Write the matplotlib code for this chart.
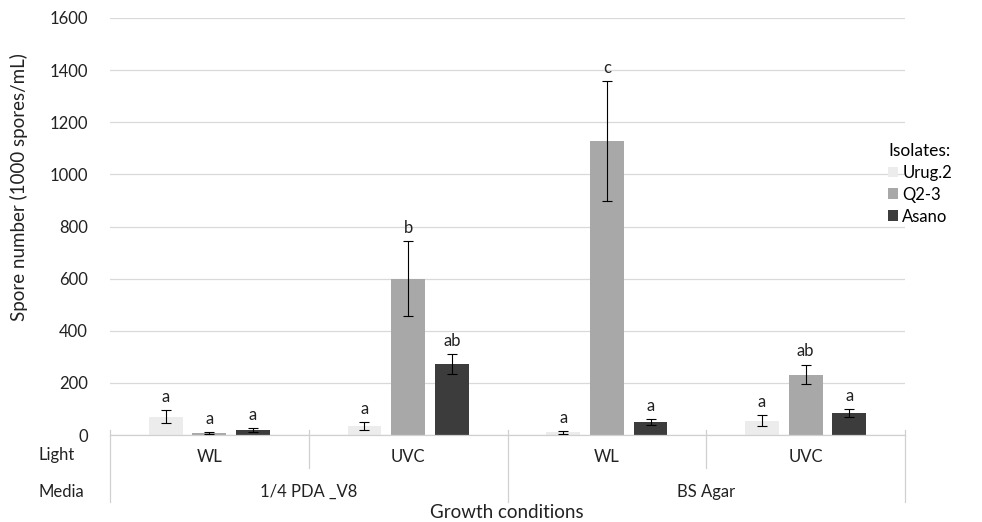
import matplotlib
matplotlib.use("Agg")
import matplotlib.pyplot as plt
import numpy as np
from matplotlib.transforms import blended_transform_factory

plt.rcParams['font.family'] = ['Lato', 'DejaVu Sans']

light = ["WL", "UVC", "WL", "UVC"]
media = ["1/4 PDA _V8", "BS Agar"]
isolates = ["Urug.2", "Q2-3", "Asano"]

urug = [70, 35, 10, 55]
q23 = [8, 600, 1128, 232]
asano = [18, 272, 50, 83]

urug_err = [25, 15, 5, 22]
q23_err = [4, 145, 230, 38]
asano_err = [7, 38, 12, 15]

urug_sig = ["a", "a", "a", "a"]
q23_sig = ["a", "b", "c", "ab"]
asano_sig = ["a", "ab", "a", "a"]

colors = ["#ececec", "#a8a8a8", "#3c3c3c"]
txt = '#222222'

fig = plt.figure(figsize=(9.82, 5.22), dpi=100)
ax = fig.add_axes([110/982, 1-435/522, 795/982, 417/522])

x = np.arange(len(light))
width = 0.17
offs = [-0.22, 0.0, 0.22]
series = [(urug, urug_err, urug_sig), (q23, q23_err, q23_sig), (asano, asano_err, asano_sig)]
for (vals, errs, sigs), off, col, name in zip(series, offs, colors, isolates):
    ax.bar(x + off, vals, width, color=col, label=name, zorder=2)
    ax.errorbar(x + off, vals, yerr=errs, fmt='none', ecolor='black',
                elinewidth=0.8, capsize=3.5, capthick=0.8, zorder=3)
    for xi, v, e, s in zip(x + off, vals, errs, sigs):
        ax.text(xi, v + e + 20, s, ha='center', va='bottom', fontsize=12, color=txt)

ax.set_xlim(-0.5, 3.5)
ax.set_ylim(0, 1600)
ax.set_yticks(np.arange(0, 1601, 200))
ax.tick_params(axis='y', length=0, labelsize=12, pad=16, colors=txt)
ax.set_xticks([])
ax.grid(axis='y', color='#d9d9d9', linewidth=0.9, zorder=0)
for sp in ['top', 'right', 'left']:
    ax.spines[sp].set_visible(False)
ax.spines['bottom'].set_color('#d0d0d0')
ax.spines['bottom'].set_linewidth(0.9)

ax.set_ylabel("Spore number (1000 spores/mL)", fontsize=13.5, color=txt)
ax.yaxis.set_label_coords((28 - 110) / 795, (435 - 187) / 417)

# Category table below the axis
tr = blended_transform_factory(ax.transData, fig.transFigure)
def fy(py):
    return 1 - py / 522

for b in [-0.5, 1.5, 3.5]:
    ax.plot([b, b], [fy(430), fy(502)], transform=tr, color='#d0d0d0', lw=0.9, clip_on=False)
for b in [0.5, 2.5]:
    ax.plot([b, b], [fy(430), fy(468)], transform=tr, color='#d0d0d0', lw=0.9, clip_on=False)

for xi, lab in zip(x, light):
    ax.text(xi, fy(457), lab, transform=tr, ha='center', va='center', fontsize=12, color=txt)
for i, lab in enumerate(media):
    ax.text(2 * i + 0.5, fy(492), lab, transform=tr, ha='center', va='center', fontsize=12, color=txt)

fig.text(38/982, fy(455), "Light", ha='left', va='center', fontsize=12, color=txt)
fig.text(38/982, fy(492), "Media", ha='left', va='center', fontsize=12, color=txt)
fig.text(507/982, fy(512), "Growth conditions", ha='center', va='center', fontsize=13.5, color=txt)

leg = fig.legend(loc='upper left', bbox_to_anchor=(888/982, fy(143)), frameon=False,
                 title="Isolates:", fontsize=12, title_fontsize=12.5,
                 handlelength=0.6, handleheight=0.6, handletextpad=0.25,
                 labelspacing=0.35, borderpad=0, borderaxespad=0)
leg._legend_box.align = "left"

fig.savefig("out.png", dpi=100)
